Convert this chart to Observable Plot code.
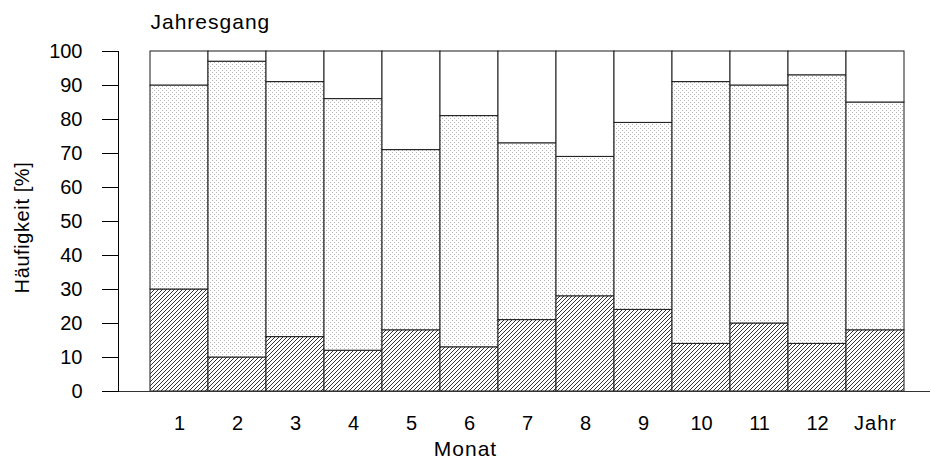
<!DOCTYPE html>
<html>
<head>
<meta charset="utf-8">
<script src="https://cdn.jsdelivr.net/npm/d3@7"></script>
<script src="https://cdn.jsdelivr.net/npm/@observablehq/plot@0.6"></script>
<style>
  html, body { margin: 0; padding: 0; background: white; }
</style>
</head>
<body>
<div id="chart"></div>
<script>
const categories = ["1", "2", "3", "4", "5", "6", "7", "8", "9", "10", "11", "12", "Jahr"];
// segment shares in percent (bottom: hatched, middle: dotted, top: blank)
const hatched = [30, 10, 16, 12, 18, 13, 21, 28, 24, 14, 20, 14, 18];
const dotted  = [60, 87, 75, 74, 53, 68, 52, 41, 55, 77, 70, 79, 67];
const blank   = [10,  3,  9, 14, 29, 19, 27, 31, 21,  9, 10,  7, 15];
const seriesNames = ["hatched", "dotted", "blank"];
const yTicks = [0, 10, 20, 30, 40, 50, 60, 70, 80, 90, 100];
const title = "Jahresgang";
const xLabel = "Monat";
const yLabel = "Häufigkeit [%]";

const seriesValues = {hatched, dotted, blank};
const rows = [];
categories.forEach((c, i) => {
  seriesNames.forEach(s => rows.push({cat: c, series: s, value: seriesValues[s][i]}));
});

function patternDefs() {
  const defs = d3.create("svg:defs");
  const h = defs.append("pattern").attr("id", "hatch")
    .attr("patternUnits", "userSpaceOnUse").attr("width", 4).attr("height", 4);
  h.append("rect").attr("width", 4).attr("height", 4).attr("fill", "white");
  h.append("path").attr("d", "M-1,1 L1,-1 M0,4 L4,0 M3,5 L5,3")
    .attr("stroke", "#111").attr("stroke-width", 0.85).attr("fill", "none");
  const d = defs.append("pattern").attr("id", "dots")
    .attr("patternUnits", "userSpaceOnUse").attr("width", 4).attr("height", 4);
  d.append("rect").attr("width", 4).attr("height", 4).attr("fill", "white");
  d.append("rect").attr("x", 0).attr("y", 0).attr("width", 1).attr("height", 1).attr("fill", "#b4b4b4");
  d.append("rect").attr("x", 2).attr("y", 2).attr("width", 1).attr("height", 1).attr("fill", "#b4b4b4");
  return defs.node();
}

const chart = Plot.plot({
  width: 931,
  height: 464,
  marginTop: 51,
  marginBottom: 73,
  marginLeft: 118,
  marginRight: 1,
  style: {fontFamily: "'Liberation Sans', Arial, sans-serif", fontSize: "20px", color: "black", background: "white", overflow: "visible"},
  x: {domain: categories, range: [148, 906], padding: 0, label: null},
  y: {domain: [0, 100], label: null},
  color: {domain: seriesNames, range: ["url(#hatch)", "url(#dots)", "white"]},
  marks: [
    patternDefs,
    Plot.barY(rows, Plot.stackY({x: "cat", y: "value", fill: "series", stroke: "#1a1a1a", strokeWidth: 1, order: null})),
    Plot.ruleY([0], {stroke: "#333", strokeWidth: 1.2}),
    Plot.frame({anchor: "left", stroke: "black"}),
    Plot.axisY({ticks: yTicks, tickSize: 16, tickPadding: 20, label: null, fontSize: 20}),
    Plot.axisX({tickSize: 0, tickPadding: 24, label: null, fontSize: 20}),
    Plot.text([title], {text: d => d, frameAnchor: "top-left", textAnchor: "start", lineAnchor: "bottom", dx: 32, dy: -23, fontSize: 21}),
    Plot.text([xLabel], {text: d => d, frameAnchor: "bottom", textAnchor: "middle", lineAnchor: "bottom", dx: -59, dy: 64, fontSize: 21}),
    Plot.text([yLabel], {text: d => d, frameAnchor: "left", textAnchor: "middle", lineAnchor: "bottom", rotate: -90, dx: -89.5, dy: 6, fontSize: 20})
  ]
});

d3.select(chart).selectAll("text").each(function() {
  const t = this.textContent;
  if (t === title || t === xLabel || t === "Jahr") d3.select(this).attr("letter-spacing", "1px");
  if (t === yLabel) d3.select(this).attr("letter-spacing", "0.6px");
});

document.getElementById("chart").appendChild(chart);
</script>
</body>
</html>
